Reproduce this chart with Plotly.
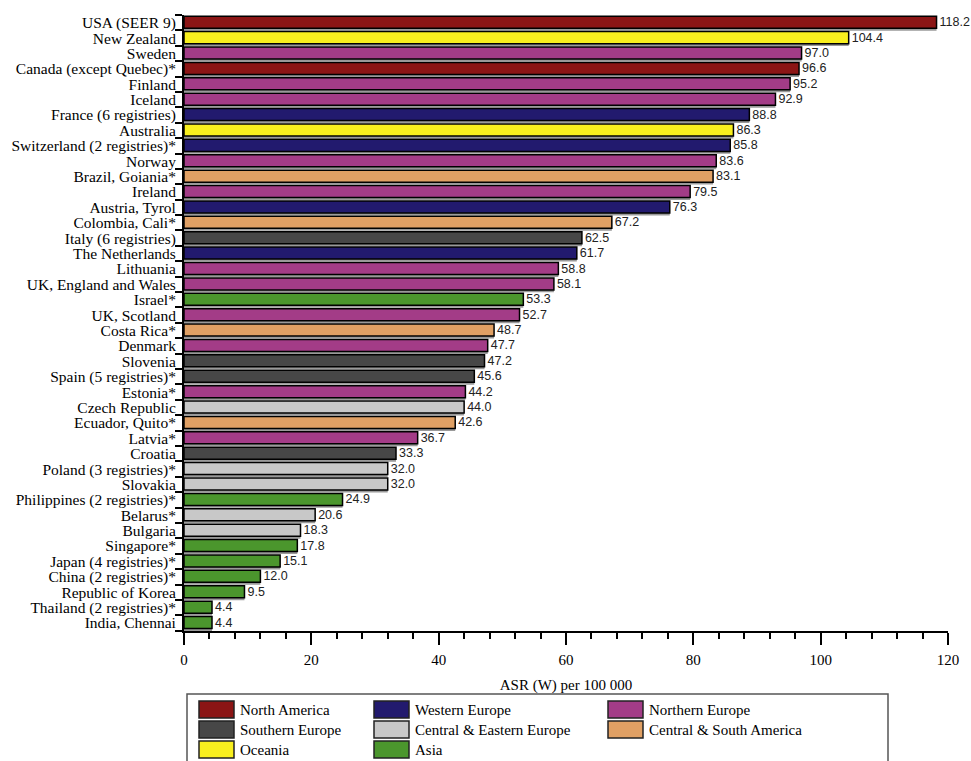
import plotly.graph_objects as go

# Age-standardised rates (world population) per 100 000, by registry
countries = [
    "USA (SEER 9)", "New Zealand", "Sweden", "Canada (except Quebec)*", "Finland",
    "Iceland", "France (6 registries)", "Australia", "Switzerland (2 registries)*",
    "Norway", "Brazil, Goiania*", "Ireland", "Austria, Tyrol", "Colombia, Cali*",
    "Italy (6 registries)", "The Netherlands", "Lithuania", "UK, England and Wales",
    "Israel*", "UK, Scotland", "Costa Rica*", "Denmark", "Slovenia",
    "Spain (5 registries)*", "Estonia*", "Czech Republic", "Ecuador, Quito*",
    "Latvia*", "Croatia", "Poland (3 registries)*", "Slovakia",
    "Philippines (2 registries)*", "Belarus*", "Bulgaria", "Singapore*",
    "Japan (4 registries)*", "China (2 registries)*", "Republic of Korea",
    "Thailand (2 registries)*", "India, Chennai",
]
asr = [
    118.2, 104.4, 97.0, 96.6, 95.2, 92.9, 88.8, 86.3, 85.8, 83.6, 83.1, 79.5,
    76.3, 67.2, 62.5, 61.7, 58.8, 58.1, 53.3, 52.7, 48.7, 47.7, 47.2, 45.6,
    44.2, 44.0, 42.6, 36.7, 33.3, 32.0, 32.0, 24.9, 20.6, 18.3, 17.8, 15.1,
    12.0, 9.5, 4.4, 4.4,
]
regions = [
    "North America", "Oceania", "Northern Europe", "North America", "Northern Europe",
    "Northern Europe", "Western Europe", "Oceania", "Western Europe",
    "Northern Europe", "Central & South America", "Northern Europe", "Western Europe",
    "Central & South America", "Southern Europe", "Western Europe", "Northern Europe",
    "Northern Europe", "Asia", "Northern Europe", "Central & South America",
    "Northern Europe", "Southern Europe", "Southern Europe", "Northern Europe",
    "Central & Eastern Europe", "Central & South America", "Northern Europe",
    "Southern Europe", "Central & Eastern Europe", "Central & Eastern Europe",
    "Asia", "Central & Eastern Europe", "Central & Eastern Europe", "Asia", "Asia",
    "Asia", "Asia", "Asia", "Asia",
]

region_colors = {
    "North America": "#8b1515",
    "Western Europe": "#221a6e",
    "Northern Europe": "#a33c87",
    "Southern Europe": "#474747",
    "Central & Eastern Europe": "#c8c8c8",
    "Central & South America": "#e0a064",
    "Oceania": "#f8ef1e",
    "Asia": "#4b962d",
}
# legend layout: three columns, filled row by row
legend_columns = [
    ["North America", "Southern Europe", "Oceania"],
    ["Western Europe", "Central & Eastern Europe", "Asia"],
    ["Northern Europe", "Central & South America"],
]

SERIF = "Liberation Serif"
SANS = "Liberation Sans"

fig = go.Figure()

# thin grey drop shadow under every bar
fig.add_trace(go.Bar(
    x=asr, y=countries, orientation="h",
    width=0.78, offset=-0.26,
    marker=dict(color="#9a9a9a", line=dict(width=0)),
    showlegend=False, hoverinfo="skip",
))

for reg, col in region_colors.items():
    xs = [v for v, r in zip(asr, regions) if r == reg]
    ys = [c for c, r in zip(countries, regions) if r == reg]
    fig.add_trace(go.Bar(
        x=xs, y=ys, orientation="h", name=reg,
        width=0.78, offset=-0.42,
        marker=dict(color=col, line=dict(color="black", width=1.5)),
        text=[f"{v:.1f}" for v in xs], textposition="outside",
        constraintext="none",
        textfont=dict(family=SANS, size=12.5, color="#222"),
        cliponaxis=False, showlegend=False,
    ))

# legend drawn beneath the axis title
W, H = 971, 761
ml, mr, mt, mb = 184, 23, 15, 130
pw, ph = W - ml - mr, H - mt - mb


def px_x(p):
    return (p - ml) / pw


def px_y(p):
    return (H - mb - p) / ph


shapes = [dict(type="rect", xref="paper", yref="paper",
               x0=px_x(187), x1=px_x(888), y0=px_y(766), y1=px_y(694),
               line=dict(color="#555", width=1.5), fillcolor="rgba(0,0,0,0)")]
annotations = []
col_x = [199, 374, 608]
row_y = [701, 721, 741]
for ci, names in enumerate(legend_columns):
    for ri, name in enumerate(names):
        x0 = col_x[ci]
        y0 = row_y[ri]
        shapes.append(dict(type="rect", xref="paper", yref="paper",
                           x0=px_x(x0), x1=px_x(x0 + 35), y0=px_y(y0 + 17), y1=px_y(y0),
                           fillcolor=region_colors[name],
                           line=dict(color="#222", width=1.5)))
        annotations.append(dict(xref="paper", yref="paper",
                                x=px_x(x0 + 39), y=px_y(y0 + 8.5),
                                xanchor="left", yanchor="middle", showarrow=False,
                                text=name, font=dict(family=SERIF, size=15, color="black")))

fig.update_layout(
    width=W, height=H,
    margin=dict(l=ml, r=mr, t=mt, b=mb),
    paper_bgcolor="white", plot_bgcolor="white",
    font=dict(family=SERIF, size=15, color="black"),
    barmode="overlay", showlegend=False,
    shapes=shapes, annotations=annotations,
    xaxis=dict(
        range=[0, 120], dtick=20, tick0=0,
        showgrid=False, zeroline=False,
        showline=True, linecolor="black", linewidth=2,
        ticks="outside", ticklen=12, tickwidth=2, tickcolor="black",
        minor=dict(dtick=4, ticks="outside", ticklen=6, tickwidth=2, tickcolor="black"),
        tickfont=dict(family=SERIF, size=15, color="black"),
        ticklabelstandoff=2,
        title=dict(text="ASR (W) per 100 000", standoff=12,
                   font=dict(family=SERIF, size=15, color="black")),
    ),
    yaxis=dict(
        type="category", categoryorder="array", categoryarray=countries,
        tickmode="array", tickvals=countries,
        autorange="reversed",
        showgrid=False, zeroline=False,
        showline=True, linecolor="black", linewidth=2,
        ticks="outside", ticklen=7, tickwidth=2, tickcolor="black",
        tickson="boundaries", ticklabelstandoff=3,
        tickfont=dict(family=SERIF, size=15.5, color="black"),
    ),
)

fig.write_html("out.html")
